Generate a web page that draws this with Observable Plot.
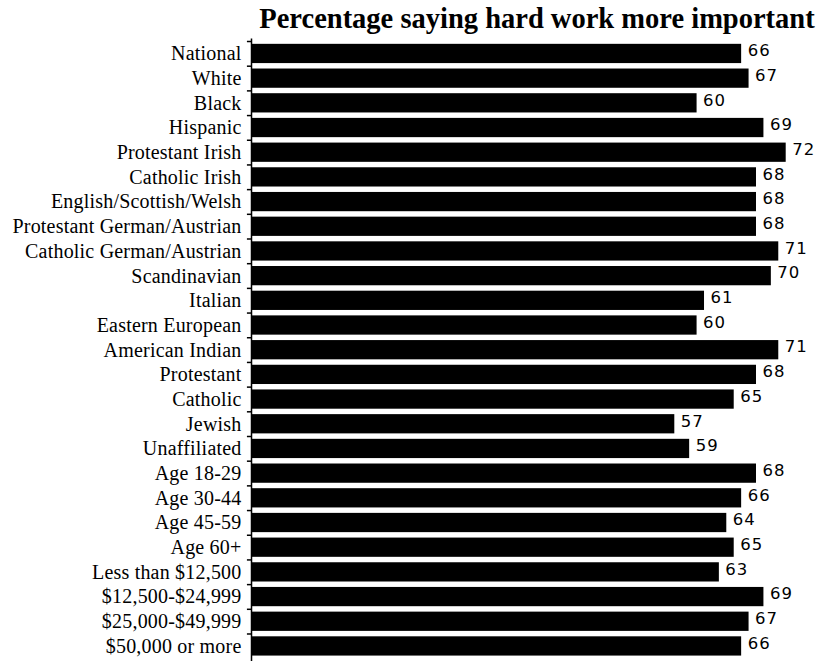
<!DOCTYPE html>
<html>
<head>
<meta charset="utf-8">
<script src="https://cdn.jsdelivr.net/npm/d3@7"></script>
<script src="https://cdn.jsdelivr.net/npm/@observablehq/plot@0.6"></script>
<style>
  html, body { margin: 0; padding: 0; background: #fff; }
  #wrap { position: relative; width: 827px; }
  #title { position: relative; height: 36px; }
  #title span {
    position: absolute; left: 537px; top: 4.5px; transform: translateX(-50%);
    font-family: "Liberation Serif", "Times New Roman", serif; font-weight: bold;
    font-size: 28.5px; line-height: 1; white-space: nowrap; color: #000;
  }
  svg [aria-label="y-axis tick label"] text { letter-spacing: 0.2px; }
  svg .vals text { letter-spacing: 1px; }
</style>
</head>
<body>
<div id="wrap">
  <div id="title"><span>Percentage saying hard work more important</span></div>
  <div id="chart"></div>
</div>
<script>
const titleText = "Percentage saying hard work more important";
const categories = [
  "National", "White", "Black", "Hispanic", "Protestant Irish", "Catholic Irish",
  "English/Scottish/Welsh", "Protestant German/Austrian", "Catholic German/Austrian",
  "Scandinavian", "Italian", "Eastern European", "American Indian", "Protestant",
  "Catholic", "Jewish", "Unaffiliated", "Age 18-29", "Age 30-44", "Age 45-59",
  "Age 60+", "Less than $12,500", "$12,500-$24,999", "$25,000-$49,999", "$50,000 or more"
];
const percentages = [66, 67, 60, 69, 72, 68, 68, 68, 71, 70, 61, 60, 71, 68, 65, 57, 59, 68, 66, 64, 65, 63, 69, 67, 66];

const data = categories.map((c, i) => ({category: c, value: percentages[i]}));

const H = 625, MT = 2.4, MB = 0;
const step = (H - MT - MB) / categories.length;

const chart = Plot.plot({
  width: 827,
  height: H,
  marginTop: MT,
  marginBottom: MB,
  marginLeft: 251,
  marginRight: 41.3,
  style: {fontFamily: "'Liberation Serif', 'Times New Roman', serif", fontSize: "20px", color: "#000", background: "#fff"},
  x: {domain: [0, 72], axis: null},
  y: {domain: categories, padding: 0.22, round: false, axis: null, label: null},
  marks: [
    Plot.barX(data, {x: "value", y: "category", fill: "#000"}),
    Plot.ruleX([0], {stroke: "#000", strokeWidth: 1.5}),
    Plot.ruleY(categories, {y: d => d, x1: -0.55, x2: 0, dy: -step / 2, stroke: "#000", strokeWidth: 1.5}),
    Plot.axisY({tickSize: 0, tickPadding: 10, dy: 0, label: null, fontSize: 20, fontFamily: "'Liberation Serif', serif"}),
    Plot.text(data, {
      x: "value", y: "category", text: d => String(d.value),
      textAnchor: "start", dx: 6, dy: -3,
      fontFamily: "'DejaVu Sans', sans-serif", fontSize: 16.5, fill: "#000",
      className: "vals"
    })
  ]
});
document.getElementById("chart").appendChild(chart);
</script>
</body>
</html>
